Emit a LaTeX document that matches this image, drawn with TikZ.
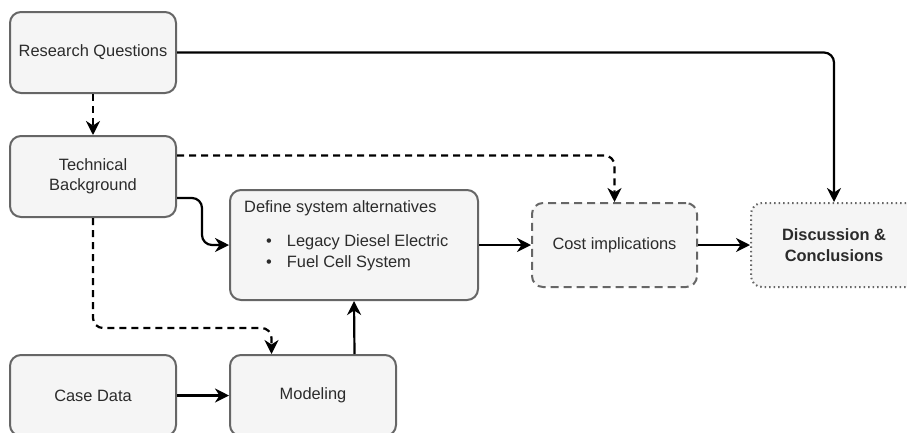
\documentclass[tikz,border=0pt]{standalone}
\usepackage{fontspec}
\setmainfont{Liberation Sans}
\usetikzlibrary{arrows.meta,calc}
\definecolor{boxfill}{HTML}{F5F5F5}
\definecolor{boxline}{HTML}{666666}
\definecolor{txt}{HTML}{2B2B2B}
\begin{document}
\begin{tikzpicture}[x=1pt,y=-1pt,
  font=\fontsize{16.4}{20.5}\selectfont,
  box/.style={draw=boxline, fill=boxfill, line width=2pt, rounded corners=11pt,
    minimum width=166pt, minimum height=81pt, inner sep=0pt, text=txt, align=center},
  conn/.style={draw=black, line width=2.2pt, rounded corners=10pt,
    -{Stealth[length=14pt,width=14pt,inset=4.5pt]}},
  dconn/.style={conn, dash pattern=on 7pt off 5pt},
  lbl/.style={text=txt, inner sep=0pt, anchor=west, align=left}]
\useasboundingbox (0,0) rectangle (907,432);
\node[box] (rq) at (93,52.5) {Research Questions};
\node[box] (tb) at (93,176.5) {Technical\\Background};
\node[box] (cd) at (93,395.5) {Case Data};
\node[box] (mod) at (313,395.5) {Modeling};
\node[box, minimum width=248pt, minimum height=110pt] (def) at (354,245) {};
\node[lbl] (deft) at ([shift={(15,19)}]def.north west) {Define system alternatives};
\node[lbl] (defl) at ([shift={(37,64)}]def.north west) {\textbullet\hspace{15pt}Legacy Diesel Electric\\\textbullet\hspace{15pt}Fuel Cell System};
\node[box, minimum width=165pt, minimum height=84pt, dash pattern=on 8pt off 5pt] (cost) at (614.5,245) {Cost implications};
\node[box, minimum width=166pt, minimum height=84pt, dash pattern=on 1.5pt off 3pt, font=\fontsize{16.4}{20.5}\selectfont\bfseries] (disc) at (834,245) {Discussion \&\\Conclusions};
\draw[conn] (rq.east) -| (disc.north);
\draw[dconn] (rq.south) -- (tb.north);
\draw[dconn] ([yshift=21pt]tb.east) -| (cost.north);
\draw[conn] ([yshift=-21.5pt]tb.east) -- ++(25,0) |- (def.west);
\draw[dconn] (tb.south) -- ++(0,110) -| ([xshift=-41.5pt]mod.north);
\draw[conn] (cd.east) -- (mod.west);
\draw[conn] ([xshift=41.5pt]mod.north) -- (def.south);
\draw[conn] (def.east) -- (cost.west);
\draw[conn] (cost.east) -- (disc.west);
\end{tikzpicture}
\end{document}
